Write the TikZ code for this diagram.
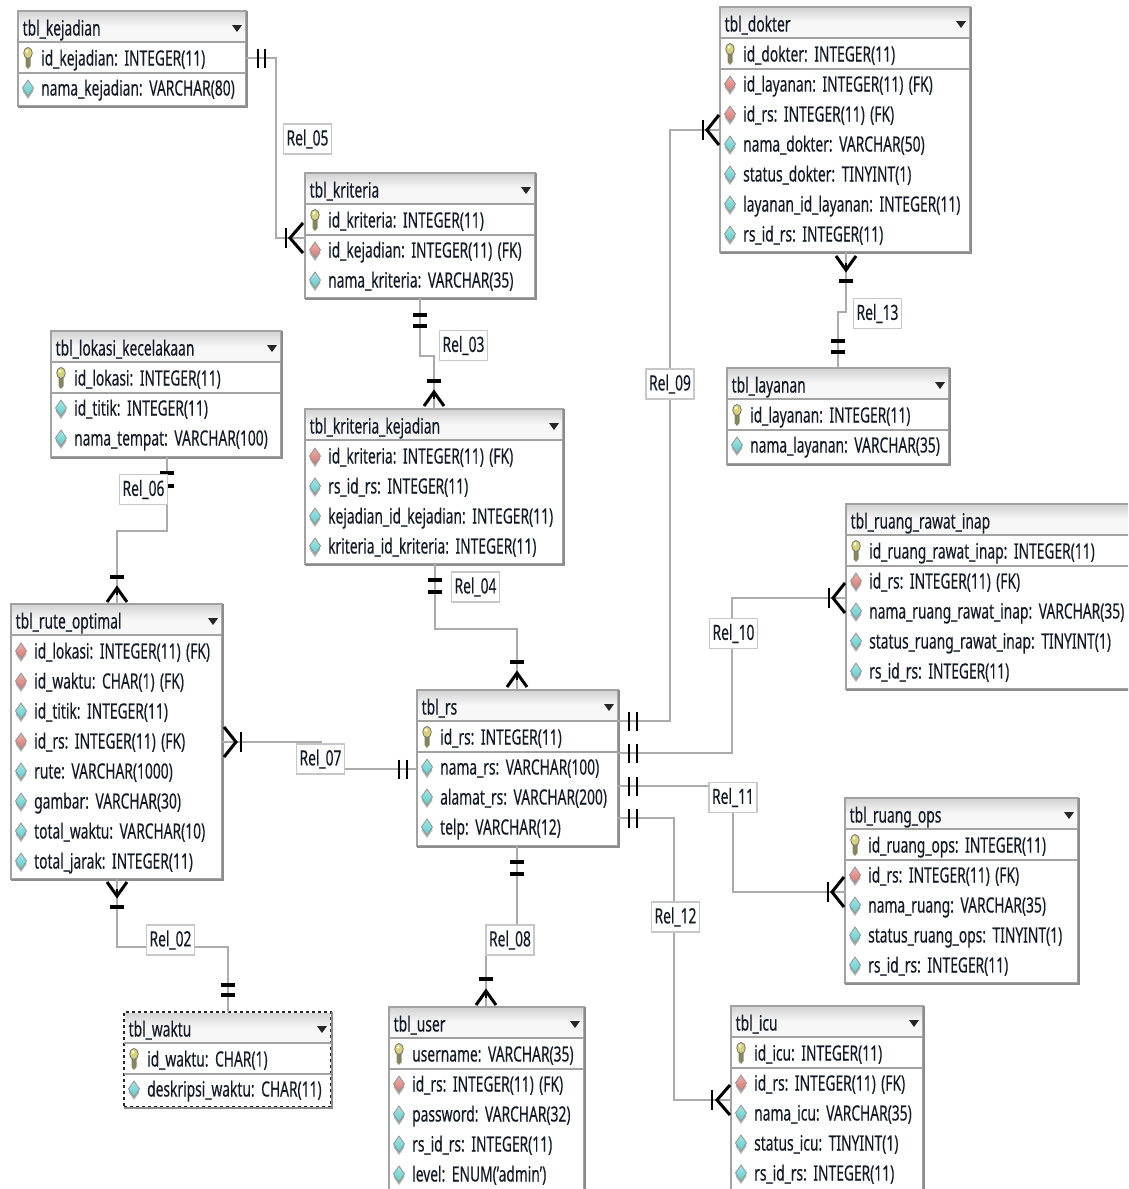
\documentclass[tikz,border=0pt]{standalone}
\usepackage{fontspec}
\setmainfont[FakeStretch=0.657,WordSpace=1.5,FakeBold=0.3]{Noto Sans}
\definecolor{ink}{HTML}{141A28}
\definecolor{edge}{HTML}{A2A2A2}
\definecolor{shadowc}{HTML}{8C8C8C}
\definecolor{linec}{HTML}{ABABAB}
\definecolor{teal}{HTML}{5CCFCF}
\definecolor{redd}{HTML}{DE726C}
\definecolor{keyc}{HTML}{D8D27A}
\definecolor{keyd}{HTML}{85855E}
\tikzset{
  tablebox/.style={draw=edge,line width=2pt,fill=white,inner sep=0pt,outer sep=0pt,anchor=north west},
  celltext/.style={anchor=base west,inner sep=0pt,text=ink,font=\fontsize{21}{24}\selectfont},
  rel/.style={draw=linec,line width=1.4pt},
  mk/.style={draw=black,line width=2.5pt},
  mkarm/.style={draw=black,line width=3pt},
  mkflat/.style={draw=black,line width=3.2pt},
  rellabel/.style={draw=black!22,line width=1.4pt,fill=white,inner sep=0pt,minimum width=48pt,minimum height=30pt,text=ink,font=\fontsize{21}{24}\selectfont},
  divider/.style={draw=edge,line width=1.4pt},
  icondiamond/.style={draw=black!42,line width=.8pt},
}
% icons: one per row kind
\newcommand\iconk[2]{%
  \fill[keyd] (#1-2.5,#2-2) -- (#1+2.5,#2-2) -- (#1+2.5,#2+8) -- (#1,#2+11) -- (#1-2.5,#2+8) -- cycle;
  \fill[draw=black!55,line width=.8pt,fill=keyc] (#1,#2-5) ellipse [x radius=4.3pt,y radius=5.5pt];
  \fill[white!80!yellow] (#1-1,#2-7) ellipse [x radius=1.6pt,y radius=1.8pt];
  \draw[divider] (\tabx,#2+15) -- ({\tabx+\tabw},#2+15);
}
\newcommand\icondiam[3]{%
  \fill[black!30] (#2,#3-6) -- (#2+5.5,#3+3) -- (#2,#3+11) -- (#2-5.5,#3+3) -- cycle;
  \shade[top color=#1!55!white,bottom color=#1,icondiamond] (#2,#3-8) -- (#2+5.5,#3) -- (#2,#3+8) -- (#2-5.5,#3) -- cycle;
}
\newcommand\iconf[2]{\icondiam{redd}{#1}{#2}}
\newcommand\icona[2]{\icondiam{teal}{#1}{#2}}
% table: [style]{name}{x}{y}{w}{h}{title}{rows}
\newcommand\erd[8][]{%
  \def\tabx{#3}\def\tabw{#5}%
  \node[tablebox,minimum width=#5pt,minimum height=#6pt,#1] (#2) at (#3,#4) {};
  \shade[top color=black!17,bottom color=black!3,middle color=black!3] (#3+1,#4+1) rectangle (#3+#5-1,#4+30);
  \draw[divider] (#3,#4+31) -- (#3+#5,#4+31);
  \draw[draw=shadowc,line width=2.2pt] (#3,#4+#6+1) -- (#3+#5+1,#4+#6+1) -- (#3+#5+1,#4);
  \node[celltext] (#2-title) at (#3+4.5,#4+24.5) {#7};
  \fill[black!85] (#3+#5-14,#4+14) -- (#3+#5-4,#4+14) -- (#3+#5-9,#4+21) -- cycle;
  \foreach \kind/\txt [count=\ri] in {#8}{
    \pgfmathsetmacro\ry{#4+17+30*\ri}
    \csname icon\kind\endcsname{#3+10}{\ry}
    \node[celltext] (#2-r\ri) at (#3+23,\ry+7.5) {\txt};
  }
}
\newcommand\barsV[3]{\draw[mk] (#1,#3-9.5) -- (#1,#3+9.5) (#2,#3-9.5) -- (#2,#3+9.5);} % two upright bars on a horizontal line
\newcommand\barsH[3]{\draw[mkflat] (#3-7,#1) -- (#3+7,#1) (#3-7,#2) -- (#3+7,#2);} % two flat bars on a vertical line
% crow's foot on a horizontal line: tip x, vertex x, bar x, y
\newcommand\crowH[4]{\draw[mkarm] (#1,#4-15) -- (#2,#4) -- (#1,#4+15); \draw[mk] (#3,#4-10) -- (#3,#4+10);}
% crow's foot on a vertical line: tip y, vertex y, bar y, x
\newcommand\crowV[4]{\draw[mkarm] (#4-10,#1) -- (#4,#2) -- (#4+10,#1); \draw[mk] (#4,#2) -- (#4,{(#1+#2)/2}); \draw[mkflat] (#4-7,#3) -- (#4+7,#3);}
\begin{document}
\begin{tikzpicture}[x=1pt,y=-1pt]
\useasboundingbox (0,0) rectangle (1128,1189);
\clip (0,0) rectangle (1128,1189);
\fill[white] (0,0) rectangle (1128,1189);

\erd{tkej}{18}{11}{228}{95}{tbl\_kejadian}{k/id\_kejadian: INTEGER(11),a/nama\_kejadian: VARCHAR(80)}
\erd{tdok}{720}{7}{250}{245}{tbl\_dokter}{k/id\_dokter: INTEGER(11),f/id\_layanan: INTEGER(11) (FK),f/id\_rs: INTEGER(11) (FK),a/nama\_dokter: VARCHAR(50),a/status\_dokter: TINYINT(1),a/layanan\_id\_layanan: INTEGER(11),a/rs\_id\_rs: INTEGER(11)}
\erd{tkri}{305}{173}{230}{125}{tbl\_kriteria}{k/id\_kriteria: INTEGER(11),f/id\_kejadian: INTEGER(11) (FK),a/nama\_kriteria: VARCHAR(35)}
\erd{tlok}{51}{331}{230}{126}{tbl\_lokasi\_kecelakaan}{k/id\_lokasi: INTEGER(11),a/id\_titik: INTEGER(11),a/nama\_tempat: VARCHAR(100)}
\erd{tkk}{305}{409}{258}{155}{tbl\_kriteria\_kejadian}{f/id\_kriteria: INTEGER(11) (FK),a/rs\_id\_rs: INTEGER(11),a/kejadian\_id\_kejadian: INTEGER(11),a/kriteria\_id\_kriteria: INTEGER(11)}
\erd{tlay}{727}{368}{222}{96}{tbl\_layanan}{k/id\_layanan: INTEGER(11),a/nama\_layanan: VARCHAR(35)}
\erd{trri}{846}{504}{300}{185}{tbl\_ruang\_rawat\_inap}{k/id\_ruang\_rawat\_inap: INTEGER(11),f/id\_rs: INTEGER(11) (FK),a/nama\_ruang\_rawat\_inap: VARCHAR(35),a/status\_ruang\_rawat\_inap: TINYINT(1),a/rs\_id\_rs: INTEGER(11)}
\erd{trut}{11}{604}{211}{275}{tbl\_rute\_optimal}{f/id\_lokasi: INTEGER(11) (FK),f/id\_waktu: CHAR(1) (FK),a/id\_titik: INTEGER(11),f/id\_rs: INTEGER(11) (FK),a/rute: VARCHAR(1000),a/gambar: VARCHAR(30),a/total\_waktu: VARCHAR(10),a/total\_jarak: INTEGER(11)}
\erd{trs}{417}{690}{201}{156}{tbl\_rs}{k/id\_rs: INTEGER(11),a/nama\_rs: VARCHAR(100),a/alamat\_rs: VARCHAR(200),a/telp: VARCHAR(12)}
\erd{tops}{845}{798}{233}{185}{tbl\_ruang\_ops}{k/id\_ruang\_ops: INTEGER(11),f/id\_rs: INTEGER(11) (FK),a/nama\_ruang: VARCHAR(35),a/status\_ruang\_ops: TINYINT(1),a/rs\_id\_rs: INTEGER(11)}
\erd[dashed,draw=black!85,line width=1.4pt]{twak}{124}{1012}{207}{95}{tbl\_waktu}{k/id\_waktu: CHAR(1),a/deskripsi\_waktu: CHAR(11)}
\erd{tusr}{389}{1007}{195}{215}{tbl\_user}{k/username: VARCHAR(35),f/id\_rs: INTEGER(11) (FK),a/password: VARCHAR(32),a/rs\_id\_rs: INTEGER(11),a/level: ENUM('admin')}
\erd{ticu}{731}{1006}{192}{215}{tbl\_icu}{k/id\_icu: INTEGER(11),f/id\_rs: INTEGER(11) (FK),a/nama\_icu: VARCHAR(35),a/status\_icu: TINYINT(1),a/rs\_id\_rs: INTEGER(11)}

% connectors
\draw[rel] (tkej.east |- 0,58) -- (276,58) -- (276,238) -- (tkri.west |- 0,238);
\draw[rel] (420,0 |- tkri.south) -- (420,356) -- (434,356) -- (434,0 |- tkk.north);
\draw[rel] (435,0 |- tkk.south) -- (435,629) -- (517,629) -- (517,0 |- trs.north);
\draw[rel] (167,0 |- tlok.south) -- (167,531) -- (117,531) -- (117,0 |- trut.north);
\draw[rel] (trut.east |- 0,742) -- (321,742) -- (321,769) -- (trs.west |- 0,769);
\draw[rel] (117,0 |- trut.south) -- (117,947) -- (228,947) -- (228,0 |- twak.north);
\draw[rel] (517,0 |- trs.south) -- (517,940) -- (486,940) -- (486,0 |- tusr.north);
\draw[rel] (trs.east |- 0,721) -- (670,721) -- (670,130) -- (tdok.west |- 0,130);
\draw[rel] (846,0 |- tdok.south) -- (846,312) -- (838,312) -- (838,0 |- tlay.north);
\draw[rel] (trs.east |- 0,753) -- (732,753) -- (732,598) -- (trri.west |- 0,598);
\draw[rel] (trs.east |- 0,786) -- (733,786) -- (733,892) -- (tops.west |- 0,892);
\draw[rel] (trs.east |- 0,818) -- (674,818) -- (674,1100) -- (ticu.west |- 0,1100);

% line ends
\barsV{258}{265}{58}
\crowH{303}{290}{286}{238}
\barsH{315}{326}{420}
\crowV{406}{392}{381}{434}
\barsH{580}{592}{435}
\crowV{687}{673}{662}{517}
\draw[mkflat] (160,473) -- (174,473) (168,486) -- (174,486);
\crowV{602}{588}{577}{117}
\crowH{224}{236}{241}{742}
\barsV{399}{407}{769}
\crowV{882}{896}{907}{117}
\barsH{985}{995}{228}
\barsH{862}{874}{517}
\crowV{1005}{991}{979}{486}
\barsV{629}{637}{721}
\crowH{719}{707}{703}{130}
\crowV{256}{270}{281}{846}
\barsH{341}{352}{838}
\barsV{629}{637}{753}
\crowH{845}{833}{829}{598}
\barsV{629}{637}{786}
\crowH{844}{832}{828}{892}
\barsV{629}{637}{818}
\crowH{730}{717}{712}{1100}

% relationship labels
\node[rellabel] (rel05) at (307.5,139) {Rel\_05};
\node[rellabel] (rel03) at (463.5,345.5) {Rel\_03};
\node[rellabel] (rel04) at (475.5,587) {Rel\_04};
\node[rellabel] (rel06) at (143.5,489.5) {Rel\_06};
\node[rellabel] (rel07) at (320.5,759) {Rel\_07};
\node[rellabel] (rel02) at (170.5,940) {Rel\_02};
\node[rellabel] (rel08) at (510,940) {Rel\_08};
\node[rellabel] (rel09) at (670,384) {Rel\_09};
\node[rellabel] (rel13) at (877.5,313.5) {Rel\_13};
\node[rellabel] (rel10) at (733.5,633.5) {Rel\_10};
\node[rellabel] (rel11) at (733,797.5) {Rel\_11};
\node[rellabel] (rel12) at (675.5,917) {Rel\_12};
\end{tikzpicture}
\end{document}
